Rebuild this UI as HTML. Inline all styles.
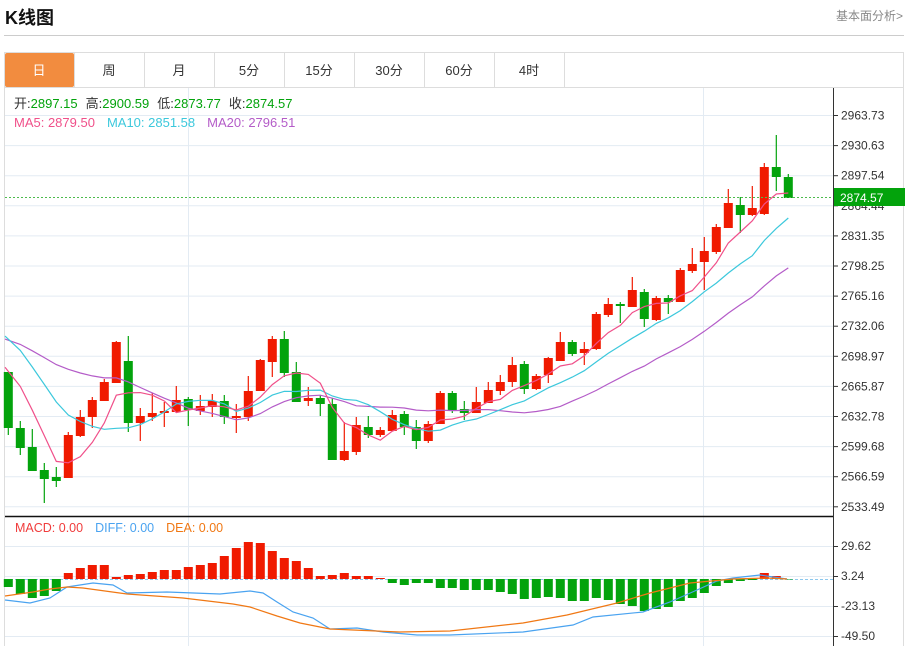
<!DOCTYPE html>
<html><head><meta charset="utf-8">
<style>
body{margin:0;width:909px;height:646px;background:#fff;font-family:"Liberation Sans","Noto Sans CJK SC",sans-serif;overflow:hidden;position:relative}
.t{position:absolute;left:5px;top:4px;font-size:18px;font-weight:bold;color:#111}
.r{position:absolute;right:6px;top:7px;font-size:12px;color:#888}
.hl{position:absolute;left:4px;top:35px;width:900px;height:1px;background:#ccc}
svg{position:absolute;left:0;top:0}
</style></head><body>
<div class="t">K线图</div><div class="r">基本面分析&gt;</div><div class="hl"></div>
<svg id="s" width="909" height="646" font-family="Liberation Sans, Noto Sans CJK SC, sans-serif"></svg>
<script>
var C=[[372,428,372,435],[428,448,421,455],[447,471,429,471],[470,479,463,503],[477,481,467,487],[478,435,432,478],[436,417,410,437],[417,400,397,428],[401,382,379,401],[383,342,341,383],[361,423,336,432],[423,416,408,441],[417,413,393,421],[413,411,402,427],[412,400,386,412],[399,410,397,426],[411,406,395,415],[407,401,394,417],[401,417,395,424],[418,416,404,433],[417,391,376,421],[391,360,359,391],[362,339,336,377],[339,373,331,377],[372,402,362,402],[401,398,387,406],[398,404,395,416],[404,460,398,460],[460,451,422,461],[452,425,417,455],[427,435,416,438],[435,430,427,437],[431,415,410,431],[414,427,411,435],[427,441,420,449],[441,424,421,443],[424,393,391,424],[393,410,391,413],[409,413,401,420],[413,402,387,413],[403,390,382,403],[391,382,375,395],[382,365,357,387],[364,389,361,394],[389,376,374,390],[375,358,357,383],[361,342,332,361],[342,354,340,356],[353,349,342,365],[349,314,312,350],[315,304,298,317],[304,306,302,323],[307,290,277,307],[292,319,289,327],[320,298,296,321],[298,302,295,314],[302,270,268,302],[271,264,248,273],[262,251,237,290],[252,227,224,254],[228,203,189,228],[205,215,197,233],[215,208,186,216],[214,167,163,215],[167,177,135,191],[177,198,174,198]];
var H=[587,594,598,596,591,573,568,565,565,577,575,574,572,570,570,567,565,563,556,548,542,543,551,558,561,568,576,575,573,576,576,578,583,585,583,583,588,588,590,590,590,592,594,599,598,597,598,601,601,598,600,604,606,611,609,607,601,598,593,586,583,581,580,573,576,579];
var o='';
function L(x1,y1,x2,y2,c,w,d){o+='<line x1="'+x1+'" y1="'+y1+'" x2="'+x2+'" y2="'+y2+'" stroke="'+c+'" stroke-width="'+(w||1)+'"'+(d?' stroke-dasharray="'+d+'"':'')+'/>';}
function T(x,y,s,c,sz,a){o+='<text x="'+x+'" y="'+y+'" fill="'+c+'" font-size="'+(sz||12)+'"'+(a?' text-anchor="'+a+'"':'')+'>'+s+'</text>';}
o+='<rect x="4.5" y="52.5" width="899" height="600" fill="none" stroke="#ddd"/>';
var tabs=['日','周','月','5分','15分','30分','60分','4时'];
for(var i=0;i<8;i++){var x=4+i*70;if(i==0)o+='<rect x="5" y="53" width="69" height="34" fill="#f28c3f" rx="2"/>';L(x+70.5,53,x+70.5,87,'#ddd');T(x+35,75,tabs[i],i==0?'#fff':'#333',13,'middle');}
L(4,87.5,904,87.5,'#ddd');
var P=['2963.73','2930.63','2897.54','2864.44','2831.35','2798.25','2765.16','2732.06','2698.97','2665.87','2632.78','2599.68','2566.59','2533.49'];
for(i=0;i<14;i++){var y=115.5+i*30.1;L(5,y,833,y,'#e3ebf3');L(833,y,838,y,'#333');T(841,y+4,P[i],'#333',12);}
L(188.5,88,188.5,646,'#e3ebf3');L(703.5,88,703.5,646,'#e3ebf3');
var M=[['29.62',546],['3.24',576],['-23.13',606],['-49.50',636]];
M.forEach(function(m){L(5,m[1]+.5,833,m[1]+.5,'#e3ebf3');L(833,m[1]+.5,838,m[1]+.5,'#333');T(841,m[1]+4,m[0],'#333',12);});
L(833.5,88,833.5,646,'#333');L(5,516.5,833,516.5,'#111',1.5);
var cl=[];
C.forEach(function(c,i){var x=8.3+12*i,up=c[1]<c[0],col=up?'#f01a00':'#03a30c';cl.push(c[1]);
var hi=Math.min(c[2],c[0],c[1]),lo=Math.max(c[3],c[0],c[1]);
L(x,hi,x,lo,col,1.2);var t=Math.min(c[0],c[1]),h=Math.max(Math.abs(c[0]-c[1]),1.5);
o+='<rect x="'+(x-4.5)+'" y="'+t+'" width="9" height="'+h+'" fill="'+col+'"/>';});
var pad=[];for(i=0;i<10;i++)pad.push(342);for(i=0;i<5;i++)pad.push(305);for(i=0;i<4;i++)pad.push(352);
var all=pad.concat(cl);
function ma(n,col){var p=[];for(var i=0;i<cl.length;i++){var s=0;for(var k=0;k<n;k++)s+=all[i+19-k];var x=i==0?5:8.3+12*i;p.push(x+','+(s/n).toFixed(1));}
o+='<polyline points="'+p.join(' ')+'" fill="none" stroke="'+col+'" stroke-width="1.2"/>';}
ma(20,'#b45cc8');ma(10,'#3cc8dc');ma(5,'#f0508a');
L(5,197.5,833,197.5,'#4cbb4c',1,'2,2');
o+='<rect x="834" y="188" width="71" height="18" fill="#03a30c"/>';T(840,202,'2874.57','#fff',12);
L(5,579.5,833,579.5,'#8cc8ee',1,'3,2');
H.forEach(function(h,i){var x=8.3+12*i,r=h<579;o+='<rect x="'+(x-4.5)+'" y="'+Math.min(h,579)+'" width="9" height="'+Math.max(Math.abs(h-579),0.5)+'" fill="'+(r?'#f01a00':'#03a30c')+'"/>';});
o+='<polyline fill="none" stroke="#4aa3f0" stroke-width="1.2" points="5,600 30,603 50,598 67,587 93,583 113,585 127,593 167,592 220,594 250,591 263,593 277,602 293,612 313,618 330,629 357,628 383,632 417,635 450,635 523,632 573,625 593,617 643,612 670,602 697,590 717,581 733,578 760,575 787,579"/>';
o+='<polyline fill="none" stroke="#f07814" stroke-width="1.2" points="5,596 33,592 50,589 67,587 83,588 127,594 183,598 233,604 250,607 277,616 300,623 330,629 400,632 450,631 523,623 567,615 617,603 650,593 690,583 733,579 767,578 787,579"/>';
o+='<text x="14" y="108" font-size="13" xml:space="preserve"><tspan fill="#333">开:</tspan><tspan fill="#03a30c">2897.15</tspan><tspan fill="#333" dx="8">高:</tspan><tspan fill="#03a30c">2900.59</tspan><tspan fill="#333" dx="8">低:</tspan><tspan fill="#03a30c">2873.77</tspan><tspan fill="#333" dx="8">收:</tspan><tspan fill="#03a30c">2874.57</tspan></text>';
o+='<text x="14" y="127" font-size="13"><tspan fill="#f0508a">MA5: 2879.50</tspan><tspan fill="#3cc8dc" dx="12">MA10: 2851.58</tspan><tspan fill="#b45cc8" dx="12">MA20: 2796.51</tspan></text>';
o+='<text x="15" y="532" font-size="12.5"><tspan fill="#f03c3c">MACD: 0.00</tspan><tspan fill="#4aa3f0" dx="12">DIFF: 0.00</tspan><tspan fill="#f07814" dx="12">DEA: 0.00</tspan></text>';
document.getElementById('s').innerHTML=o;
</script>
</body></html>
